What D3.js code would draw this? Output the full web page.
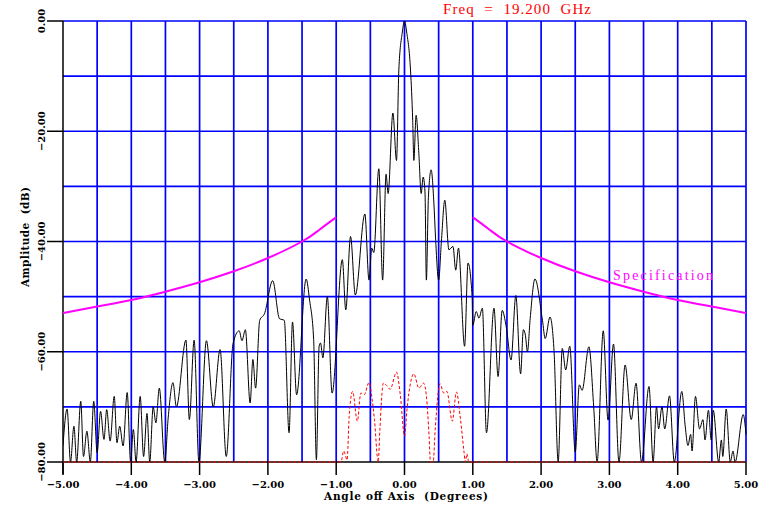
<!DOCTYPE html>
<html>
<head>
<meta charset="utf-8">
<title>Antenna pattern 19.2 GHz</title>
<script src="https://cdn.jsdelivr.net/npm/d3@7/dist/d3.min.js"></script>
<style>
  body { margin: 0; background: #fff; }
  .tick-label { font-family: "DejaVu Serif", serif; font-weight: bold; font-size: 10px; }
  .axis-title { font-family: "DejaVu Serif", serif; font-weight: bold; font-size: 10.5px; white-space: pre; }
</style>
</head>
<body>
<script>
// measured antenna pattern (black), degrees / dB
var patternAngle = [-5.00,-4.94,-4.89,-4.84,-4.80,-4.74,-4.70,-4.65,-4.60,-4.55,-4.50,-4.45,-4.40,-4.36,-4.31,-4.25,-4.21,-4.17,-4.12,-4.06,
  -4.01,-3.97,-3.93,-3.87,-3.82,-3.77,-3.73,-3.68,-3.64,-3.59,-3.51,-3.46,-3.39,-3.34,-3.20,-3.15,-3.08,-3.01,-2.90,-2.80,
  -2.70,-2.61,-2.51,-2.42,-2.38,-2.33,-2.26,-2.22,-2.18,-2.12,-2.05,-1.93,-1.83,-1.76,-1.69,-1.64,-1.58,-1.44,-1.39,-1.33,
  -1.29,-1.25,-1.23,-1.195,-1.13,-1.06,-0.91,-0.86,-0.79,-0.72,-0.58,-0.52,-0.48,-0.45,-0.376,-0.32,-0.27,-0.24,-0.17,-0.117,
  -0.083,-0.034,0.00,0.034,0.088,0.12,0.137,0.17,0.21,0.244,0.273,0.30,0.32,0.35,0.39,0.43,0.454,0.50,0.54,0.59,
  0.65,0.71,0.75,0.79,0.88,0.93,0.99,1.00,1.05,1.09,1.14,1.20,1.31,1.37,1.43,1.49,1.56,1.63,1.70,1.74,
  1.77,1.80,1.84,1.91,2.02,2.06,2.13,2.19,2.25,2.31,2.36,2.42,2.50,2.56,2.60,2.70,2.77,2.82,2.91,2.98,
  3.06,3.14,3.23,3.32,3.39,3.47,3.58,3.64,3.69,3.72,3.77,3.81,3.88,3.95,4.06,4.11,4.15,4.19,4.21,4.26,
  4.32,4.37,4.40,4.45,4.49,4.52,4.60,4.64,4.66,4.71,4.77,4.81,4.84,4.96,5.00];
var patternDb = [-77,-70.4,-80,-73.5,-80,-69,-79,-74.4,-80,-69,-78.3,-70.8,-75.9,-70.5,-76.2,-68.1,-76.5,-73.5,-77.1,-67.4,
  -80,-74.1,-80,-68.1,-79,-71.2,-80,-70,-72.9,-66.6,-80,-72,-65.6,-70,-57.9,-72.3,-57.9,-80,-58,-70,
  -59.6,-79,-58.5,-56.2,-58,-56,-69.3,-61.4,-66.6,-54.3,-53.1,-47.1,-54,-54.3,-74.7,-54.6,-67.8,-46.8,-50.6,-57.8,
  -79.6,-59,-58.4,-61.1,-50,-67.5,-43.3,-52.4,-39.1,-49.7,-35,-47,-41.2,-42,-26.8,-47,-27.8,-31.3,-16.7,-25.3,
  -8.9,-2.2,0,-2.2,-8.9,-18,-25.3,-17.1,-24,-31.3,-28.3,-31,-47,-32,-27,-33,-39.2,-47,-40,-32.5,
  -41.5,-40.9,-45.2,-41.2,-59,-43.9,-50,-55.2,-52.7,-53.9,-52.1,-74.7,-52.1,-64.5,-52.5,-55.5,-61.5,-49.8,-64,-56,
  -57,-60,-54,-46.8,-54.3,-57.6,-53.7,-60,-80,-59.4,-63.3,-59,-78.2,-66,-67,-59.1,-70,-80,-56.2,-72.4,
  -58.6,-80,-62.4,-72.3,-65.7,-80,-66.3,-80,-70,-74,-70,-74,-68,-80,-67.2,-73.5,-77,-75,-78,-68.1,
  -74,-72.3,-76,-70.6,-76,-70.6,-80,-76,-79,-70.4,-80,-78,-80,-71.4,-75];

// red dashed trace
var refAngle = [-5.00,-0.93,-0.89,-0.84,-0.81,-0.76,-0.69,-0.64,-0.59,-0.52,-0.47,-0.44,-0.385,-0.36,-0.31,-0.27,-0.21,-0.117,-0.06,0.00,
  0.04,0.137,0.21,0.28,0.32,0.36,0.38,0.42,0.45,0.52,0.575,0.62,0.70,0.76,0.82,0.87,0.89,0.915,0.94,5.00];
var refDb = [-80,-80,-78,-79.6,-71.7,-67.2,-72.6,-67.5,-67.8,-65.6,-69,-72.3,-80,-74,-65.7,-66,-66.8,-63.7,-68,-75.3,
  -70,-64,-66.6,-65.7,-68,-75.3,-80,-80,-74,-65.8,-67.5,-67.2,-72.6,-67.3,-72.3,-78,-80,-78.5,-80,-80];

// specification envelope (magenta)
var specLeftAngle = [-5.0,-4.5,-4.0,-3.5,-3.0,-2.5,-2.0,-1.5,-1.25,-1.0];
var specLeftDb = [-53,-51.8,-50.6,-49.1,-47.4,-45.4,-43.0,-40,-37.9,-35.6];
var specRightAngle = [1.0,1.25,1.5,2.0,2.5,3.0,3.5,4.0,4.5,5.0];
var specRightDb = [-35.6,-37.9,-40,-43.0,-45.4,-47.4,-49.1,-50.6,-51.8,-53];

var xTicks = [-5,-4,-3,-2,-1,0,1,2,3,4,5];
var yTicks = [0,-20,-40,-60,-80];
var xGrid = [-4.5,-4,-3.5,-3,-2.5,-2,-1.5,-1,-0.5,0,0.5,1,1.5,2,2.5,3,3.5,4,4.5,5];
var yGrid = [0,-10,-20,-30,-40,-50,-60,-70];

var svg_width = 762, svg_height = 508;
var plotLeft = 63, plotRight = 746, plotTop = 21, plotBottom = 462;

var svg = d3.select("body").append("svg")
  .attr("width", svg_width)
  .attr("height", svg_height);

var x = d3.scaleLinear().domain([-5, 5]).range([plotLeft, plotRight]);
var y = d3.scaleLinear().domain([-80, 0]).range([plotBottom, plotTop]);
var fmt = d3.format(".2f");

svg.append("clipPath").attr("id", "plot")
  .append("rect").attr("x", plotLeft).attr("y", plotTop - 1)
  .attr("width", plotRight - plotLeft + 1).attr("height", plotBottom - plotTop + 3);

// blue grid
svg.append("g").selectAll("line").data(xGrid).enter().append("line")
  .attr("x1", function(d) { return x(d); }).attr("x2", function(d) { return x(d); })
  .attr("y1", plotTop).attr("y2", plotBottom)
  .attr("stroke", "#0000ff").attr("stroke-width", 1.7);
svg.append("g").selectAll("line").data(yGrid).enter().append("line")
  .attr("x1", plotLeft).attr("x2", plotRight)
  .attr("y1", function(d) { return y(d); }).attr("y2", function(d) { return y(d); })
  .attr("stroke", "#0000ff").attr("stroke-width", 1.7);

// axes (black)
svg.append("line").attr("x1", plotLeft).attr("x2", plotLeft).attr("y1", plotTop).attr("y2", plotBottom + 12)
  .attr("stroke", "#000").attr("stroke-width", 1.5);
svg.append("line").attr("x1", plotLeft).attr("x2", plotRight).attr("y1", plotBottom).attr("y2", plotBottom)
  .attr("stroke", "#000").attr("stroke-width", 1.5);

svg.append("g").selectAll("line").data(xTicks).enter().append("line")
  .attr("x1", function(d) { return x(d); }).attr("x2", function(d) { return x(d); })
  .attr("y1", plotBottom).attr("y2", plotBottom + 13)
  .attr("stroke", "#000").attr("stroke-width", 1.5);
svg.append("g").selectAll("text").data(xTicks).enter().append("text")
  .attr("class", "tick-label")
  .attr("x", function(d) { return x(d); }).attr("y", plotBottom + 26)
  .attr("text-anchor", "middle")
  .text(function(d) { return fmt(d); });

svg.append("g").selectAll("line").data(yTicks).enter().append("line")
  .attr("x1", plotLeft - 16).attr("x2", plotLeft)
  .attr("y1", function(d) { return y(d); }).attr("y2", function(d) { return y(d); })
  .attr("stroke", "#000").attr("stroke-width", 1.5);
svg.append("g").selectAll("text").data(yTicks).enter().append("text")
  .attr("class", "tick-label")
  .attr("transform", function(d) { return "translate(45," + y(d) + ") rotate(-90)"; })
  .attr("text-anchor", "middle")
  .text(function(d) { return fmt(d); });

svg.append("text").attr("class", "axis-title")
  .attr("x", 406).attr("y", 500)
  .attr("text-anchor", "middle")
  .attr("textLength", 164).attr("lengthAdjust", "spacing")
  .text("Angle off Axis  (Degrees)");
svg.append("text").attr("class", "axis-title")
  .attr("transform", "translate(29,237) rotate(-90)")
  .attr("text-anchor", "middle")
  .attr("textLength", 100).attr("lengthAdjust", "spacing")
  .text("Amplitude  (dB)");

// traces
var line = d3.line()
  .x(function(d) { return x(d[0]); })
  .y(function(d) { return y(d[1]); })
  .curve(d3.curveMonotoneX);

var plot = svg.append("g").attr("clip-path", "url(#plot)");

plot.append("path")
  .datum(d3.zip(patternAngle, patternDb))
  .attr("d", line)
  .attr("fill", "none").attr("stroke", "#000").attr("stroke-width", 1);

plot.append("path")
  .datum(d3.zip(refAngle, refDb))
  .attr("d", line)
  .attr("fill", "none").attr("stroke", "#ff0000").attr("stroke-width", 1)
  .attr("stroke-dasharray", "3,2");

var spec = d3.line()
  .x(function(d) { return x(d[0]); })
  .y(function(d) { return y(d[1]); })
  .curve(d3.curveNatural);
plot.append("path").datum(d3.zip(specLeftAngle, specLeftDb)).attr("d", spec)
  .attr("fill", "none").attr("stroke", "#ff00ff").attr("stroke-width", 2);
plot.append("path").datum(d3.zip(specRightAngle, specRightDb)).attr("d", spec)
  .attr("fill", "none").attr("stroke", "#ff00ff").attr("stroke-width", 2);

svg.append("text")
  .attr("x", 613).attr("y", 280)
  .attr("font-family", "Liberation Serif, serif").attr("font-size", 14)
  .attr("textLength", 100).attr("lengthAdjust", "spacing")
  .attr("fill", "#ff00ff")
  .text("Specification");

svg.append("text")
  .attr("x", 443).attr("y", 14)
  .attr("font-family", "Liberation Serif, serif").attr("font-size", 15)
  .attr("textLength", 148).attr("lengthAdjust", "spacing")
  .attr("fill", "#ff0000")
  .style("white-space", "pre")
  .text("Freq  =  19.200  GHz");
</script>
</body>
</html>
